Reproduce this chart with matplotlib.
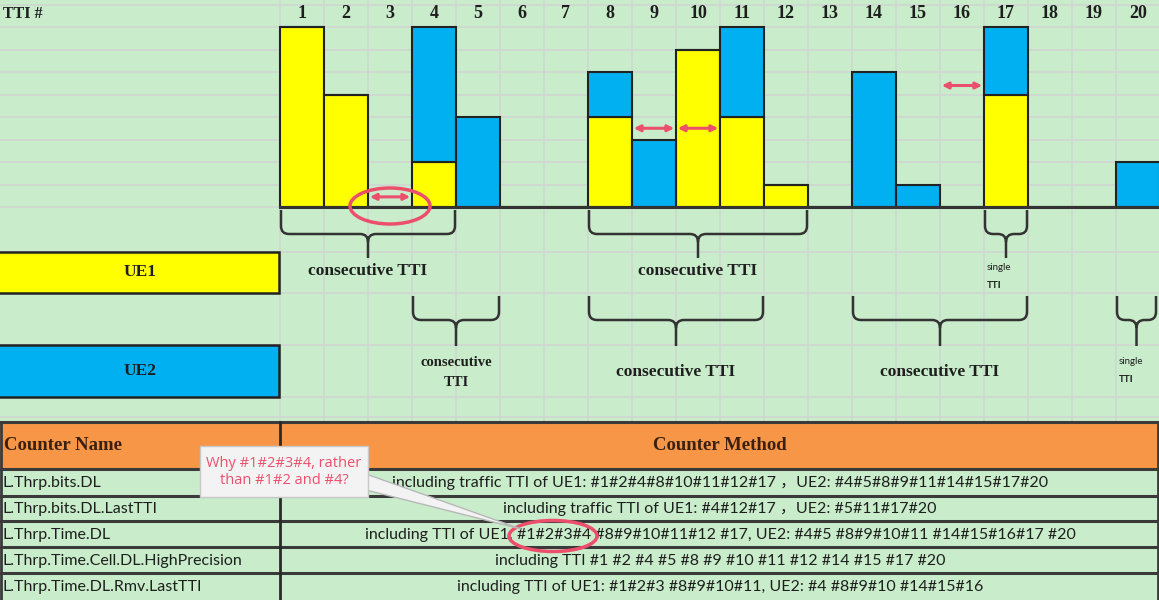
import matplotlib
matplotlib.use("Agg")
import matplotlib.pyplot as plt
from matplotlib.patches import Rectangle, Ellipse, Polygon, PathPatch
from matplotlib.path import Path

# ---------------- data ----------------
tti = list(range(1, 21))
ue1 = [8, 5, 0, 2, 0, 0, 0, 4, 0, 7, 4, 1, 0, 0, 0, 0, 5, 0, 0, 0]
ue2 = [0, 0, 0, 6, 4, 0, 0, 2, 3, 0, 4, 0, 0, 6, 1, 0, 3, 0, 0, 2]
ue1_groups = [(1, 4, "consecutive TTI"), (8, 12, "consecutive TTI"), (17, 17, "single\nTTI")]
ue2_groups = [(4, 5, "consecutive\nTTI"), (8, 11, "consecutive TTI"),
              (14, 17, "consecutive TTI"), (20, 20, "single\nTTI")]
gap_arrows = [(3, 0.45), (9, 3.5), (10, 3.5), (16, 5.4)]
ue_labels = ["UE1", "UE2"]
header = ["Counter Name", "Counter Method"]
counter_names = ["L.Thrp.bits.DL", "L.Thrp.bits.DL.LastTTI", "L.Thrp.Time.DL",
                 "L.Thrp.Time.Cell.DL.HighPrecision", "L.Thrp.Time.DL.Rmv.LastTTI"]
counter_methods = [
    "including traffic TTI of UE1: #1#2#4#8#10#11#12#17 \uff0cUE2: #4#5#8#9#11#14#15#17#20",
    "including traffic TTI of UE1: #4#12#17 \uff0cUE2: #5#11#17#20",
    "including TTI of UE1: #1#2#3#4 #8#9#10#11#12 #17, UE2: #4#5 #8#9#10#11 #14#15#16#17 #20",
    "including TTI #1 #2 #4 #5 #8 #9 #10 #11 #12 #14 #15 #17 #20",
    "including TTI of UE1: #1#2#3 #8#9#10#11, UE2: #4 #8#9#10 #14#15#16",
]
callout_text = "Why #1#2#3#4, rather\nthan #1#2 and #4?"

# ---------------- style ----------------
W, H = 1159, 600
BG = "#C9EDCB"
GRID = "#D0D6D0"
YEL = "#FFFF00"
BLU = "#00B0F0"
ORANGE = "#F79646"
RED = "#EC4F6C"
INK = "#1E1E1E"
SERIF = ["Liberation Serif", "DejaVu Serif"]
SANS = ["Lato", "Noto Sans CJK SC", "DejaVu Sans"]

X0, CW, BASE, UH = 280, 44, 207, 22.5

fig = plt.figure(figsize=(W / 100, H / 100), dpi=100)
fig.patch.set_facecolor(BG)
ax = fig.add_axes([0, 0, 1, 1])
ax.set_xlim(0, W)
ax.set_ylim(H, 0)
ax.axis("off")

# grid
hlines = [BASE - UH * k for k in range(10)] + [252, 293, 345, 397, 417]
for y in hlines:
    ax.plot([0, W], [y, y], color=GRID, lw=1.2, zorder=0)
for k in range(21):
    x = X0 + CW * k
    ax.plot([x, x], [0, 421], color=GRID, lw=1.2, zorder=0)

ax.text(3, 14, "TTI #", fontfamily=SERIF, fontweight="bold", fontsize=11.5,
        color=INK, ha="left", va="center")

# ---------------- bars ----------------
ax2 = fig.add_axes([X0 / W, (H - BASE) / H, 20 * CW / W, 8 * UH / H])
ax2.set_xlim(0.5, 20.5)
ax2.set_ylim(0, 8)
ax2.axis("off")
ax2.patch.set_alpha(0)
ax2.bar(tti, ue1, width=1, color=YEL, edgecolor="#222222", lw=1.5, clip_on=False, zorder=3)
ax2.bar(tti, ue2, bottom=ue1, width=1, color=BLU, edgecolor="#222222", lw=1.5,
        clip_on=False, zorder=3)
for t in tti:
    ax2.text(t, 8.62, str(t), ha="center", va="center", fontfamily=SERIF,
             fontweight="bold", fontsize=13, color=INK, clip_on=False)
for t, y in gap_arrows:
    ax2.annotate("", xy=(t + 0.46, y), xytext=(t - 0.46, y),
                 arrowprops=dict(arrowstyle="<|-|>", color=RED, lw=2.2,
                                 mutation_scale=9, shrinkA=0, shrinkB=0), zorder=5)

# baseline
ax2.plot([X0, W], [BASE, BASE], color="#333333", lw=2.2, zorder=4,
         transform=ax.transData, clip_on=False)

# ellipse around gap 3 (drawn above the bars)
ax2.add_patch(Ellipse((390, 206), 80, 36, fill=False, ec=RED, lw=2.5, zorder=6,
                      transform=ax.transData, clip_on=False))


# ---------------- braces ----------------
def brace(x0, x1, ytop, ymid, ytip, r=8):
    xc = (x0 + x1) / 2
    r = min(r, (x1 - x0) / 4)
    verts = [(x0, ytop), (x0, ymid - r), (x0, ymid), (x0 + r, ymid),
             (xc - r, ymid), (xc, ymid), (xc, ymid + r), (xc, ytip),
             (xc, ymid + r), (xc, ymid), (xc + r, ymid),
             (x1 - r, ymid), (x1, ymid), (x1, ymid - r), (x1, ytop)]
    codes = [Path.MOVETO, Path.LINETO, Path.CURVE3, Path.CURVE3,
             Path.LINETO, Path.CURVE3, Path.CURVE3, Path.LINETO,
             Path.MOVETO, Path.CURVE3, Path.CURVE3,
             Path.LINETO, Path.CURVE3, Path.CURVE3, Path.LINETO]
    ax.add_patch(PathPatch(Path(verts, codes), fill=False, ec="#333333", lw=1.8, zorder=4))


def group_text(a, b, label, y_one, y_two, y_small):
    x0 = X0 + (a - 1) * CW
    x1 = min(X0 + b * CW, W - 2)
    xc = (x0 + x1) / 2
    if label.startswith("single"):
        l1, l2 = label.split("\n")
        ax.text(x0 + 3, y_small, l1, fontfamily=SANS, fontsize=7, color=INK, ha="left", va="center")
        ax.text(x0 + 3, y_small + 18, l2, fontfamily=SANS, fontsize=7, fontweight="bold",
                color=INK, ha="left", va="center")
    elif "\n" in label:
        l1, l2 = label.split("\n")
        ax.text(xc, y_two, l1, fontfamily=SERIF, fontweight="bold", fontsize=10.5, color=INK,
                ha="center", va="center")
        ax.text(xc, y_two + 20, l2, fontfamily=SERIF, fontweight="bold", fontsize=10.5, color=INK,
                ha="center", va="center")
    else:
        ax.text(xc, y_one, label, fontfamily=SERIF, fontweight="bold", fontsize=12.5, color=INK,
                ha="center", va="center")
    return x0, x1


for a, b, label in ue1_groups:
    x0, x1 = group_text(a, b, label, 271, 271, 268)
    brace(x0 + 1, x1 - 1, 210, 234, 258)
for a, b, label in ue2_groups:
    x0, x1 = group_text(a, b, label, 372, 362, 362)
    brace(x0 + 1, x1 - 1, 296, 320, 346)

# UE boxes
for (y0, y1), col, lab in zip([(252, 293), (345, 397)], [YEL, BLU], ue_labels):
    ax.add_patch(Rectangle((-2, y0), 281, y1 - y0, fc=col, ec="#222222", lw=1.8, zorder=3))
    ax.text(140, (y0 + y1) / 2, lab, fontfamily=SERIF, fontweight="bold", fontsize=12.5,
            color=INK, ha="center", va="center", zorder=4)

# ---------------- table ----------------
ax.add_patch(Rectangle((0, 422), W, 47, fc=ORANGE, ec="none", zorder=2))
row_y = [469, 496, 521, 547, 573, 600]
for y in [422] + row_y[:-1]:
    ax.plot([0, W], [y, y], color="#3A3A3A", lw=2.2, zorder=3)
ax.plot([280, 280], [422, 600], color="#2A2A2A", lw=2, zorder=3)
ax.plot([1, 1], [422, 600], color="#3A3A3A", lw=2, zorder=3)
ax.plot([W - 1, W - 1], [422, 600], color="#3A3A3A", lw=2, zorder=3)
ax.text(4, 446, header[0], fontfamily=SERIF, fontweight="bold", fontsize=13.5, color="#3A2010",
        ha="left", va="center", zorder=4)
ax.text(720, 446, header[1], fontfamily=SERIF, fontweight="bold", fontsize=13.5, color="#3A2010",
        ha="center", va="center", zorder=4)
for i, (nm, mt) in enumerate(zip(counter_names, counter_methods)):
    yc = (row_y[i] + row_y[i + 1]) / 2 + 1
    ax.text(3, yc, nm, fontfamily=SANS, fontsize=11.5, color=INK, ha="left", va="center", zorder=4)
    ax.text(720, yc, mt, fontfamily=SANS, fontsize=11.5, color=INK, ha="center", va="center", zorder=4)

# ellipse around #1#2#3#4
ax.add_patch(Ellipse((553, 536), 88, 31, fill=False, ec=RED, lw=2.5, zorder=6))

# callout
ax.add_patch(Polygon([(366, 474), (366, 490), (521, 529)], closed=True, fc="#F3F3F3",
                     ec="#B8B8B8", lw=1, zorder=7))
ax.add_patch(Rectangle((200, 446), 168, 51, fc="#F3F3F3", ec="#C8C8C8", lw=1, zorder=8))
ax.text(284, 472, callout_text, fontfamily=["Open Sans", "DejaVu Sans"], fontsize=10.5,
        color=RED, ha="center", va="center", linespacing=1.25, zorder=9)

fig.savefig("out.png", dpi=100, facecolor=BG)
